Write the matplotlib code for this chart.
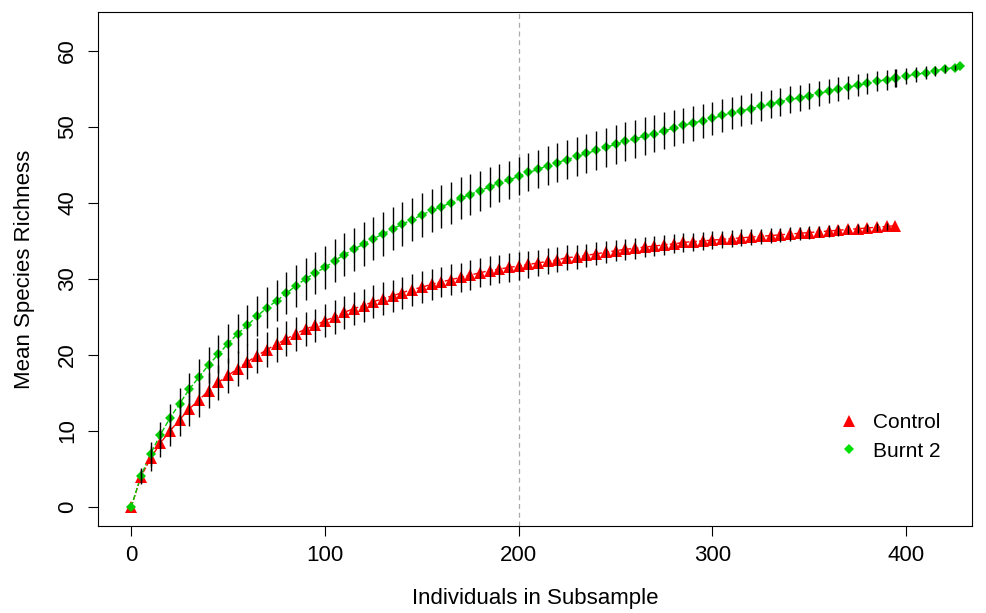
import matplotlib as mpl
mpl.use('Agg')
import matplotlib.pyplot as plt
from matplotlib.lines import Line2D

plt.rcParams['font.family'] = ['Liberation Sans', 'DejaVu Sans']

# subsample sizes
x_control = [0, 5, 10, 15, 20, 25, 30, 35, 40, 45, 50, 55, 60, 65, 70, 75, 80, 85, 90, 95,
             100, 105, 110, 115, 120, 125, 130, 135, 140, 145, 150, 155, 160, 165, 170, 175,
             180, 185, 190, 195, 200, 205, 210, 215, 220, 225, 230, 235, 240, 245, 250, 255,
             260, 265, 270, 275, 280, 285, 290, 295, 300, 305, 310, 315, 320, 325, 330, 335,
             340, 345, 350, 355, 360, 365, 370, 375, 380, 385, 390, 394]
x_burnt = x_control[:-1] + [394, 395, 400, 405, 410, 415, 420, 425, 428]

# mean species richness
control = [0, 4.0, 6.4, 8.4, 10.0, 11.5, 12.9, 14.1, 15.3, 16.4, 17.3, 18.2, 19.1, 19.9, 20.7,
           21.4, 22.1, 22.8, 23.4, 23.9, 24.5, 25.0, 25.6, 26.1, 26.5, 27.0, 27.4, 27.8, 28.2,
           28.6, 28.9, 29.3, 29.6, 29.9, 30.2, 30.5, 30.8, 31.1, 31.3, 31.5, 31.7, 31.9, 32.1,
           32.3, 32.5, 32.8, 32.9, 33.1, 33.3, 33.5, 33.7, 33.9, 34.0, 34.2, 34.3, 34.5, 34.6,
           34.8, 34.9, 35.0, 35.1, 35.2, 35.3, 35.4, 35.5, 35.6, 35.7, 35.8, 35.9, 36.0, 36.1,
           36.2, 36.3, 36.4, 36.5, 36.6, 36.7, 36.8, 36.9, 37.0]
burnt = [0, 4.1, 7.0, 9.5, 11.7, 13.6, 15.5, 17.1, 18.7, 20.1, 21.5, 22.8, 23.9, 25.1, 26.2,
         27.1, 28.1, 29.1, 30.0, 30.8, 31.5, 32.4, 33.2, 33.9, 34.6, 35.3, 35.9, 36.6, 37.2,
         37.8, 38.4, 39.0, 39.5, 40.0, 40.6, 41.1, 41.6, 42.1, 42.6, 43.0, 43.5, 44.0, 44.4,
         44.9, 45.3, 45.7, 46.1, 46.5, 46.9, 47.3, 47.7, 48.1, 48.4, 48.8, 49.1, 49.5, 49.8,
         50.2, 50.5, 50.8, 51.1, 51.5, 51.8, 52.1, 52.4, 52.7, 53.0, 53.3, 53.6, 53.8, 54.1,
         54.4, 54.7, 55.0, 55.2, 55.5, 55.7, 56.0, 56.2, 56.4, 56.4, 56.7, 56.9, 57.1, 57.4,
         57.6, 57.8, 58.0]

# standard deviations
control_sd = [0, 1.0, 1.6, 1.8, 2.0, 2.1, 2.2, 2.3, 2.3, 2.3, 2.3, 2.3, 2.3, 2.3, 2.3, 2.3,
              2.3, 2.25, 2.25, 2.2, 2.2, 2.2, 2.2, 2.15, 2.15, 2.15, 2.15, 2.1, 2.1, 2.1, 2.1,
              2.05, 2.0, 2.0, 1.95, 1.95, 1.9, 1.9, 1.85, 1.85, 1.8, 1.75, 1.7, 1.7, 1.65, 1.6,
              1.6, 1.55, 1.5, 1.45, 1.4, 1.4, 1.35, 1.35, 1.3, 1.3, 1.25, 1.25, 1.2, 1.2, 1.15,
              1.15, 1.1, 1.1, 1.05, 1.0, 1.0, 0.95, 0.9, 0.85, 0.8, 0.75, 0.75, 0.7, 0.65, 0.6,
              0.55, 0.5, 0.45, 0]
burnt_sd = [0, 1.0, 1.6, 1.7, 1.85, 2.0, 2.15, 2.3, 2.4, 2.5, 2.55, 2.6, 2.65, 2.65, 2.7,
            2.7, 2.75, 2.75, 2.8, 2.8, 2.8, 2.8, 2.8, 2.85, 2.85, 2.85, 2.85, 2.85, 2.85, 2.85,
            2.85, 2.8, 2.8, 2.75, 2.75, 2.7, 2.65, 2.6, 2.55, 2.5, 2.5, 2.5, 2.5, 2.55, 2.55,
            2.55, 2.6, 2.6, 2.6, 2.6, 2.6, 2.55, 2.55, 2.5, 2.45, 2.4, 2.35, 2.3, 2.3, 2.25,
            2.2, 2.15, 2.1, 2.05, 2.0, 1.95, 1.9, 1.85, 1.8, 1.75, 1.7, 1.65, 1.6, 1.55, 1.5,
            1.45, 1.4, 1.35, 1.3, 1.2, 1.2, 1.05, 0.95, 0.85, 0.65, 0.5, 0.33, 0]

fig = plt.figure(figsize=(9.87, 6.13), dpi=100)
ax = fig.add_axes([0.0996, 0.1419, 0.8852, 0.8385])

ax.plot(x_control, control, color='red', ls='--', lw=1, zorder=1)
ax.plot(x_burnt, burnt, color='#00CD00', ls='--', lw=1, zorder=1)
ax.plot(x_control, control, '^', color='red', ms=8, mew=0, zorder=2)
ax.plot(x_burnt, burnt, 'D', color='#00CD00', ms=5.5, mew=0, zorder=3)

ax.vlines(x_control, [m - s for m, s in zip(control, control_sd)],
          [m + s for m, s in zip(control, control_sd)], color='black', lw=1.0, zorder=4)
ax.vlines(x_burnt, [m - s for m, s in zip(burnt, burnt_sd)],
          [m + s for m, s in zip(burnt, burnt_sd)], color='black', lw=1.0, zorder=4)

ax.axvline(200, color='#AAAAAA', ls=(0, (4, 3)), lw=0.9, zorder=0)

ax.set_xlim(-17, 434)
ax.set_ylim(-2.5, 65.1)
ax.set_xticks([0, 100, 200, 300, 400])
ax.set_yticks([0, 10, 20, 30, 40, 50, 60])
ax.set_yticklabels(['0', '10', '20', '30', '40', '50', '60'], rotation=90, va='center')
ax.tick_params(labelsize=16, length=7.5, width=0.8)
ax.tick_params(axis='x', pad=6)
ax.tick_params(axis='y', pad=7)
ax.set_xlabel('Individuals in Subsample', fontsize=16, labelpad=16)
ax.set_ylabel('Mean Species Richness', fontsize=16, labelpad=16)
for sp in ax.spines.values():
    sp.set_linewidth(0.8)

handles = [Line2D([], [], marker='^', color='red', ls='', ms=8, mew=0),
           Line2D([], [], marker='D', color='#00E000', ls='', ms=5, mew=0)]
ax.legend(handles, ['Control', 'Burnt 2'], loc='center left', bbox_to_anchor=(0.847, 0.173),
          frameon=False, fontsize=15, handlelength=1.0, handletextpad=0.65,
          labelspacing=0.45, borderpad=0, borderaxespad=0)

fig.savefig('out.png', dpi=100)
